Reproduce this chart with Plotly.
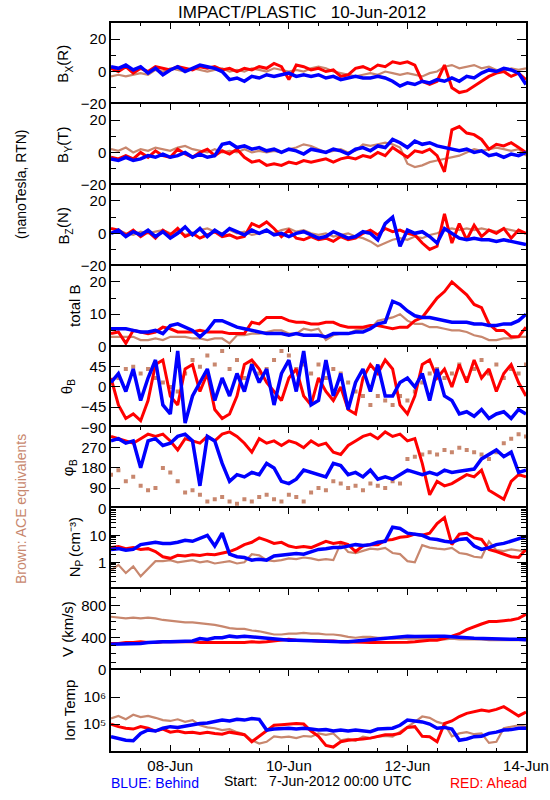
import pandas as pd
import plotly.graph_objects as go
from plotly.subplots import make_subplots

# ---------------- data (3-hour samples from 7-Jun-2012 00:00 UTC) ----------------
times = pd.date_range("2012-06-07 00:00", periods=57, freq="3h")

bx_red = [2,0,3,-1,2,0,3,2,1,3, 2,1,3,2,3,1,2,0,2,1, 3,2,5,3,-5,4,3,1,2,0,
          1,-3,-2,2,3,1,4,3,6,5, 6,4,-6,-8,-6,4,-10,-13,-12,-9, -6,-3,-1,0,-3,-1,-5]
bx_blue = [3,2,4,1,3,-1,2,-2,1,3, 0,2,4,3,2,0,-5,-4,-6,-3, -4,-2,-3,-2,-1,-3,-2,-3,-2,-4,
           -3,-5,-4,-3,-4,-4,-3,-4,-6,-9, -7,-8,-6,-7,-5,-6,-4,-6,-3,-4, -1,1,0,2,1,-1,-8]
bx_ace = [-3,-2,-3,-2,-1,-2,1,0,2,1, 0,2,1,0,1,2,0,1,0,2, 1,0,2,1,0,1,0,2,3,2,
          0,-1,-2,-3,-2,-1,-2,0,-1,-2, -1,-2,-3,-1,0,3,4,2,3,4, 2,3,1,0,2,1,2]

by_red = [-3,-4,-2,-4,0,-3,1,-2,-3,2, -1,-3,0,2,-2,1,-1,2,-3,-6, -5,-8,-7,-8,-6,-7,-5,-6,-5,-4,
          -6,-4,-3,-4,-2,-3,0,-2,3,0, -3,1,0,2,-2,-12,14,16,12,11, 8,2,5,4,6,3,0]
by_blue = [-4,-5,-3,-5,-4,-2,-3,-1,-3,-2, 0,-3,-1,-3,-2,5,6,3,4,2, 3,1,2,0,2,1,-1,2,1,0,
           2,1,-1,2,3,1,4,3,8,6, 3,7,5,6,4,3,2,1,2,0, 1,-2,-1,-3,-1,-2,0]
by_ace = [2,1,3,0,2,1,3,2,1,3, 4,2,1,0,2,0,1,0,2,0, 1,0,1,0,2,3,5,4,2,0,
          1,2,0,1,5,4,5,6,5,3, -7,-9,-8,-6,-5,-4,-3,-2,0,2, 1,2,3,2,1,2,-2]

bz_red = [3,2,-1,2,-2,1,-3,2,-1,3, -2,0,-3,-1,1,-2,-1,-3,-2,6, 4,7,3,-2,2,-3,-4,-2,-4,-3,
          -5,-2,-4,-3,0,2,-1,3,1,2, 0,-1,-6,-10,-8,12,-6,6,-4,5, -2,2,0,3,-3,2,0]
bz_blue = [0,2,-2,1,-1,2,-2,1,-3,0, 4,-1,3,-2,2,-1,3,1,-1,2, 0,2,-1,0,-2,0,1,-1,-3,-2,
           1,-1,-3,-2,1,0,-4,6,10,-8, 2,0,1,-2,-6,3,0,-3,-4,-3, -4,-4,-5,-4,-5,-6,-7]
bz_ace = [0,2,0,-1,1,0,1,2,0,1, -1,0,2,3,1,0,2,0,1,-1, 0,1,0,2,3,1,2,0,-1,0,
          -2,-1,0,-2,-3,-5,-8,-6,-4,-3, -4,-2,-3,-1,0,2,3,2,3,2, 3,2,1,3,2,1,0]

bt_red = [4,4.5,1,5,4.5,4,4.5,6,5.5,4.5, 4.5,4.5,5,4.5,4.5,4.5,4,4,4,7.5, 7,9,9,9,8,7.5,7.5,7,7,7.5,
          7.5,6.5,6,6,6,6.5,6.5,6,5.5,6, 6,8,9,12,15,17,20,18,16,13, 12,7,5,5,3,3,6]
bt_blue = [5.5,5.5,5.5,5,4.5,4.5,5,4,6.5,7, 6,5,3,5,8,8,7,6,5.5,5, 4.5,4,4,4,3.5,4,3.5,3.5,3.5,3,
           4,4,4,4.5,4.5,5.5,7,7.5,14,13, 11,9.5,9,9,8.5,8,7.5,7.5,7.5,7, 7,6.5,6.5,7,7,8,10]
bt_ace = [3,3,3,3,2,2,2.5,2,3,3, 3,2.5,2.5,2,2.5,2.5,1,3.5,3.5,4, 4,4.5,5,5,4,4,5.5,5,5.5,2,
          3.5,4,4,5,5.5,5.5,8,8.5,9,10, 8,7,7,6,6,5.5,5,5,4.5,3.5, 3,2,2,2.5,2.5,3,3]

th_red = [20,-40,-70,-60,-75,-30,50,60,-20,-40, 40,50,-10,30,-50,-70,-60,-20,50,60,
          40,10,-10,-30,20,40,-20,-40,20,-10, -30,0,-50,-60,20,50,30,60,40,-40,
          -60,-20,50,60,20,40,0,50,10,60, 20,40,-10,30,50,10,-20]
th_blue = [10,30,-10,40,-30,20,60,-40,-60,80, -80,-20,10,40,-30,20,-20,30,-10,50,
           10,40,-40,30,60,-10,80,-40,-30,60, -20,30,-50,10,40,-10,50,-20,-20,10,
           20,0,30,-30,40,-20,-30,-60,-55,-65, -50,-70,-60,-55,-70,-50,-60]
th_ace = [10,20,40,45,30,40,20,10,0,-10, 30,60,45,70,50,80,40,60,20,50,
          30,40,60,80,70,40,50,30,50,20, 40,30,10,-10,-20,-40,-20,-30,-40,-20,
          -30,-10,10,30,40,20,30,50,20,40, 60,30,50,20,40,30,50]

ph_red = [320,310,300,290,310,330,320,330,300,260, 310,300,290,320,300,330,340,320,290,250,
          310,290,300,280,300,290,270,300,280,290, 250,240,280,300,320,330,310,340,320,330,
          300,310,200,60,120,100,110,130,150,140, 170,80,60,40,120,150,140]
ph_blue = [300,310,290,300,180,300,310,280,290,320, 330,300,100,320,300,200,120,150,140,160,
           150,200,180,120,110,130,170,160,150,140, 200,190,150,160,140,170,130,140,130,150,
           170,160,150,160,150,170,160,165,170,175, 220,240,260,230,250,160,170]
ph_ace = [150,170,120,140,100,80,90,180,160,120, 70,80,60,30,40,50,30,20,40,30,
          50,60,40,30,60,50,30,70,90,80, 120,110,90,100,80,110,100,90,120,110,
          220,230,240,250,240,260,250,270,260,250, 240,220,250,290,310,330,320]

np_red = [3.5,3.8,3.2,3.5,3,3.2,2.5,1.6,1.4,1.8, 1.7,1.9,1.8,2,1.9,2.2,2.5,3.2,4.5,5.5,
          8,6.5,5,5.5,4,3.5,3.8,3.5,4.5,6, 5,5.5,4.5,2.5,4,4.5,4.5,6.5,7,8.5,
          9,11,10,12,27,45,4.5,11,12,8, 7,3,2.5,2,1.6,1.5,3]
np_blue = [3,3.2,2.8,3,4.5,5,5.5,5,5,5.5, 6.5,6,8,10,4,12,2,1.6,1.5,1.2,
           1.3,1.2,1.7,1.8,2,2.1,2,2.5,3,3.2, 3.5,3.5,4,4.5,4.2,4.5,5.5,6,20,18,
           12,11,10,7.5,7,6,5.5,7,7.5,4, 3,3.5,4.5,5,6,7,9]
np_ace = [0.5,0.8,0.4,0.7,0.3,0.6,1.1,1.1,1.2,1.0, 1.1,1.2,1.0,1.1,0.9,1.0,1.1,0.9,1.0,2.0,
          1.8,1.2,1.1,1.2,1.4,1.3,1.5,1.4,1.2,1.3, 1.2,5,2.4,2.2,2.6,3.2,3.0,3.4,2.2,2.0,
          1.1,1.0,4.3,3.5,3.2,3.0,3.4,2.2,2.0,1.6, 1.5,6,2.8,2.6,3,2.8,2.5]

v_red = [330,330,340,340,350,340,340,350,350,350, 350,350,340,345,340,340,345,340,340,350,
         345,350,360,370,380,370,370,365,360,360, 360,350,350,350,345,340,340,340,345,340,
         345,350,360,370,370,390,420,450,500,540, 570,600,600,610,620,640,690]
v_blue = [320,320,320,330,330,340,350,350,350,350, 350,360,390,380,400,400,420,410,420,410,
          400,400,380,370,370,370,365,360,360,355, 355,350,350,360,370,375,380,400,410,420,
          420,415,420,420,420,420,410,400,400,395, 390,390,385,385,380,380,375]
v_ace = [660,650,640,650,640,650,640,620,610,600, 590,590,580,570,560,540,520,510,510,490,
         480,460,440,440,450,450,460,450,450,440, 440,430,410,400,410,410,400,400,390,390,
         390,390,390,390,390,380,390,380,380,380, 380,370,370,370,370,370,370]

t_red = [1.0e5,8e4,7e4,6.5e4,8e4,7e4,5.5e4,6.5e4,5e4,5.5e4, 4.8e4,5e4,4.5e4,5e4,4.5e4,4.2e4,5e4,4.5e4,4e4,2.2e4,
         3.5e4,6e4,9e4,9.5e4,1.0e5,1.05e5,1.0e5,5.5e4,3.5e4,1.6e4, 1.4e4,2.2e4,2.5e4,2.6e4,2.8e4,3e4,3.5e4,4e4,4e4,4.5e4,
         7.5e4,8e4,3.5e4,3.4e4,2.2e4,1.05e5,1.3e5,1.9e5,2.5e5,2.8e5, 3.3e5,3.0e5,3.5e5,4.4e5,3.0e5,2.0e5,2.8e5]
t_blue = [3.4e4,3e4,2.5e4,2.4e4,4.5e4,6e4,5.5e4,7e4,8e4,7.5e4, 8.5e4,9e4,1.05e5,1.1e5,1.2e5,1.4e5,1.3e5,1.5e5,1.4e5,1.6e5,
          1.5e5,6e4,6.5e4,7e4,7e4,6.5e4,6.9e4,6.5e4,6e4,6.2e4, 5.5e4,6e4,5.5e4,6e4,5.5e4,5.2e4,6.5e4,7e4,7e4,9e4,
          1.4e5,1.3e5,1.2e5,1.0e5,7e4,7.5e4,6.5e4,2.5e4,2.8e4,3.4e4, 3.5e4,4.5e4,5e4,6e4,6.2e4,7e4,7e4]
t_ace = [1.6e5,2.0e5,1.5e5,2.2e5,1.8e5,2.0e5,1.7e5,1.4e5,1.3e5,1.5e5, 1.2e5,1.4e5,9e4,7.5e4,7e4,6e4,6.5e4,5e4,4.2e4,2.5e4,
         1.9e4,2.2e4,3.5e4,3.2e4,3.4e4,3.0e4,3.6e4,3.4e4,4.5e4,4.0e4, 4.5e4,2.5e4,2.8e4,2.4e4,3.4e4,3.0e4,3.4e4,3.6e4,3.4e4,5e4,
         7.9e4,1.2e5,1.9e5,1.7e5,1.2e5,1.0e5,3.5e4,4.5e4,5e4,4.2e4, 4.5e4,2.0e4,2.2e4,7e4,8e4,9e4,8e4]

# labelled day ticks and unlabelled half-day / odd-day ticks
label_ticks = pd.to_datetime(["2012-06-08", "2012-06-10", "2012-06-12", "2012-06-14"])
label_text = ["08-Jun", "10-Jun", "12-Jun", "14-Jun"]
small_ticks = pd.to_datetime(["2012-06-07 12:00", "2012-06-08 12:00", "2012-06-09 00:00",
                              "2012-06-09 12:00", "2012-06-10 12:00", "2012-06-11 00:00",
                              "2012-06-11 12:00", "2012-06-12 12:00", "2012-06-13 00:00",
                              "2012-06-13 12:00"])

# ---------------- figure ----------------
RED, BLUE, BROWN = "#ff0000", "#0000ff", "#c8876e"
FONT = "Liberation Sans, Arial, sans-serif"

panels = [
    (bx_ace, bx_red, bx_blue), (by_ace, by_red, by_blue), (bz_ace, bz_red, bz_blue),
    (bt_ace, bt_red, bt_blue), (th_ace, th_red, th_blue), (ph_ace, ph_red, ph_blue),
    (np_ace, np_red, np_blue), (v_ace, v_red, v_blue), (t_ace, t_red, t_blue),
]
scatter_ace = {5, 6}

fig = make_subplots(rows=9, cols=1, shared_xaxes=True, vertical_spacing=0)
for r, (ace, red, blue) in enumerate(panels, start=1):
    if r in scatter_ace:
        fig.add_trace(go.Scatter(x=times, y=ace, mode="markers",
                                 marker=dict(color=BROWN, size=4, symbol="square"),
                                 showlegend=False, hoverinfo="skip"), row=r, col=1)
    else:
        fig.add_trace(go.Scatter(x=times, y=ace, mode="lines",
                                 line=dict(color=BROWN, width=2.2),
                                 showlegend=False, hoverinfo="skip"), row=r, col=1)
    fig.add_trace(go.Scatter(x=times, y=red, mode="lines", line=dict(color=RED, width=3),
                             showlegend=False, hoverinfo="skip"), row=r, col=1)
    fig.add_trace(go.Scatter(x=times, y=blue, mode="lines", line=dict(color=BLUE, width=3.5),
                             showlegend=False, hoverinfo="skip"), row=r, col=1)

axis_common = dict(showline=True, linecolor="black", linewidth=1.5, showgrid=False,
                   zeroline=False, ticks="inside", tickcolor="black", automargin=False)

for r in range(1, 10):
    xa = dict(axis_common, range=[times[0], times[-1]], tickmode="array",
              tickvals=list(label_ticks), ticktext=label_text, ticklen=6,
              minor=dict(ticks="inside", ticklen=3, tickcolor="black",
                         tickmode="array", tickvals=list(small_ticks)),
              tickfont=dict(family=FONT, size=15, color="black"))
    if r < 9:
        xa.update(side="top", showticklabels=False)
    else:
        xa.update(side="bottom", mirror="ticks", showticklabels=True)
    fig.update_xaxes(xa, row=r, col=1)

ycfg = {
    1: dict(range=[-20, 30], tickvals=[-20, 0, 20], ticktext=["\u221220", "0", "20"], minor=[-10, 10]),
    2: dict(range=[-20, 30], tickvals=[-20, 0, 20], ticktext=["\u221220", "0", "20"], minor=[-10, 10]),
    3: dict(range=[-20, 30], tickvals=[-20, 0, 20], ticktext=["\u221220", "0", "20"], minor=[-10, 10]),
    4: dict(range=[0, 25], tickvals=[0, 10, 20], ticktext=["0", "10", "20"], minor=[5, 15]),
    5: dict(range=[-90, 90], tickvals=[-90, -45, 0, 45], ticktext=["\u221290", "\u221245", "0", "45"], minor=[]),
    6: dict(range=[0, 360], tickvals=[0, 90, 180, 270], ticktext=["0", "90", "180", "270"], minor=[]),
    7: dict(type="log", range=[-1, 2], tickvals=[1, 10], ticktext=["1", "10"],
            minor=[0.2, 0.3, 0.4, 0.5, 0.6, 0.7, 0.8, 0.9, 2, 3, 4, 5, 6, 7, 8, 9,
                   20, 30, 40, 50, 60, 70, 80, 90]),
    8: dict(range=[0, 1000], tickvals=[0, 400, 800], ticktext=["0", "400", "800"],
            minor=[100, 200, 300, 500, 600, 700, 900]),
    9: dict(type="log", range=[4, 7], tickvals=[1e5, 1e6],
            ticktext=["10\u2075", "10\u2076"], minor=[]),
}
for r, c in ycfg.items():
    ya = dict(axis_common, range=c["range"], tickmode="array", tickvals=c["tickvals"],
              ticktext=c["ticktext"], ticklen=9, mirror="ticks",
              tickfont=dict(family=FONT, size=15, color="black"))
    if "type" in c:
        ya["type"] = c["type"]
    if c["minor"]:
        ya["minor"] = dict(ticks="inside", ticklen=5, tickcolor="black",
                           tickmode="array", tickvals=c["minor"])
    fig.update_yaxes(ya, row=r, col=1)

# page coordinates -> paper coordinates (plot area spans x 111..526, y 23..751 on the page)
def px(x):
    return (x - 111) / 415


def py(y):
    return (751 - y) / 728


def note(text, x, y, size=15, color="black", angle=0):
    fig.add_annotation(text=text, x=px(x), y=py(y), xref="paper", yref="paper",
                       showarrow=False, textangle=angle, xanchor="center", yanchor="middle",
                       font=dict(family=FONT, size=size, color=color))


def rot_label(pieces, xc, yc):
    """Vertical (bottom-to-top) axis label built from pieces (text, width_px, is_subscript)."""
    total = sum(w for _, w, _ in pieces)
    cur = yc + total / 2
    for text, w, sub in pieces:
        note(text, xc + (6 if sub else 0), cur - w / 2, size=10 if sub else 15, angle=-90)
        cur -= w


NB = "\u00a0"
note("IMPACT/PLASTIC" + NB * 3 + "10-Jun-2012", 302, 12, size=17)
note("(nanoTesla, RTN)", 21, 185, size=14, angle=-90)
note("Brown: ACE equivalents", 21, 509, size=14, color=BROWN, angle=-90)

rot_label([("B", 10, False), ("X", 6.7, True), ("(R)", 20.8, False)], 63, 64)
rot_label([("B", 10, False), ("Y", 6.7, True), ("(T)", 19.2, False)], 63, 145)
rot_label([("B", 10, False), ("Z", 6.1, True), ("(N)", 20.8, False)], 63, 226)
note("total B", 75, 306, angle=-90)
rot_label([("\u03b8", 8.5, False), ("B", 6.7, True)], 66, 387)
rot_label([("\u03c6", 9.8, False), ("B", 6.7, True)], 67, 468)
rot_label([("N", 10.8, False), ("P", 6.7, True), (NB + "(cm\u207b\u00b3)", 42, False)], 74, 548)
note("V (km/s)", 67, 629, angle=-90)
note("Ion Temp", 69, 711, angle=-90)

note("BLUE: Behind", 155, 783, size=14, color=BLUE)
note("Start:" + NB * 3 + "7-Jun-2012 00:00 UTC", 318, 781, size=14)
note("RED: Ahead", 488, 783, size=14, color=RED)

fig.update_layout(width=550, height=800, margin=dict(l=111, r=24, t=23, b=49),
                  plot_bgcolor="white", paper_bgcolor="white", showlegend=False,
                  font=dict(family=FONT, color="black"))

# remove the browser's default 8px page margin so the figure sits at the window's corner
fig.write_html("out.html", config={"displayModeBar": False},
               post_script="document.body.style.margin='0px';")
